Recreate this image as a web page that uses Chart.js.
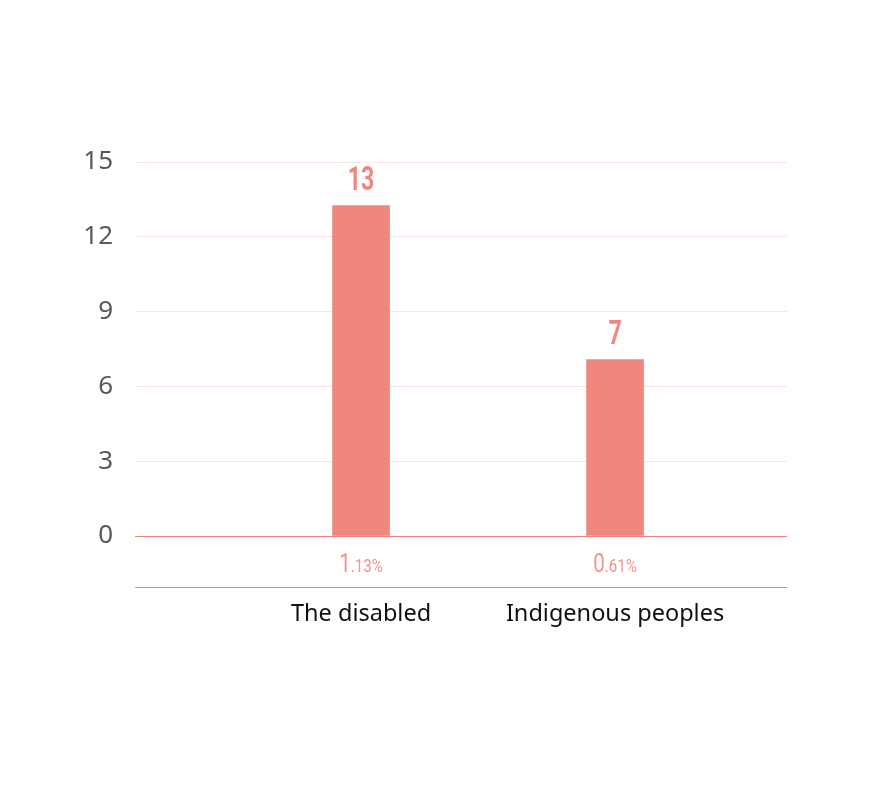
<!DOCTYPE html>
<html>
<head>
<meta charset="utf-8">
<script src="https://cdn.jsdelivr.net/npm/chart.js@4"></script>
<style>
  html, body { margin: 0; padding: 0; background: #fff; }
  #wrap { width: 887px; height: 804px; }
</style>
</head>
<body>
<div id="wrap"><canvas id="barChart" width="887" height="804"></canvas></div>
<script>
const categories = ['The disabled', 'Indigenous peoples'];
const positions = [1, 2];
const barValues = [13.25, 7.07];
const countLabels = ['13', '7'];
const shareLabels = ['1.13%', '0.61%'];
const yTicks = [0, 3, 6, 9, 12, 15];

const salmon = '#f0877f';

// labels above the bars, percent row and the two salmon rules
const labelPlugin = {
    id: 'labels',
    afterDatasetsDraw(chart) {
        const ctx = chart.ctx;
        const meta = chart.getDatasetMeta(0);
        const y = chart.scales.y;
        const area = chart.chartArea;
        ctx.save();
        ctx.strokeStyle = salmon;
        ctx.lineWidth = 1;
        [y.getPixelForValue(0), area.bottom].forEach(py => {
            const yy = Math.round(py) + 0.5;
            ctx.beginPath();
            ctx.moveTo(area.left, yy);
            ctx.lineTo(area.right, yy);
            ctx.stroke();
        });

        meta.data.forEach((bar, i) => {
            // count label, condensed bold
            ctx.save();
            ctx.fillStyle = salmon;
            ctx.textAlign = 'center';
            ctx.textBaseline = 'alphabetic';
            ctx.font = 'bold 33px Roboto, sans-serif';
            ctx.translate(bar.x, bar.y - 16);
            ctx.scale(0.7, 1);
            ctx.fillText(countLabels[i], 0, 0);
            ctx.restore();

            // percent: first digit bigger than the rest
            const txt = shareLabels[i];
            const head = txt.slice(0, 1);
            const tail = txt.slice(1);
            const bigFont = '25px Roboto, sans-serif';
            const smallFont = '18.5px Roboto, sans-serif';
            ctx.font = bigFont;
            const w1 = ctx.measureText(head).width;
            ctx.font = smallFont;
            const w2 = ctx.measureText(tail).width;
            const sx = 0.82;
            ctx.save();
            ctx.translate(bar.x - (w1 + w2) * sx / 2, y.getPixelForValue(0) + 36);
            ctx.scale(sx, 1);
            ctx.fillStyle = '#f2938c';
            ctx.textAlign = 'left';
            ctx.font = bigFont;
            ctx.fillText(head, 0, 0);
            ctx.font = smallFont;
            ctx.fillText(tail, w1, 0);
            ctx.restore();
        });
        ctx.restore();
    }
};

let barChart = new Chart(document.getElementById('barChart').getContext('2d'), {
    type: 'bar',
    data: {
        datasets: [{
            data: positions.map((p, i) => ({ x: p, y: barValues[i] })),
            backgroundColor: salmon,
            borderWidth: 0,
            barThickness: 57
        }]
    },
    options: {
        responsive: false,
        animation: false,
        layout: { padding: { top: 162, right: 100, left: 0, bottom: 0 } },
        plugins: {
            legend: { display: false },
            tooltip: { enabled: false }
        },
        scales: {
            x: {
                type: 'linear',
                offset: false,
                min: 0.11,
                max: 2.677,
                afterBuildTicks: (scale) => { scale.ticks = positions.map(v => ({ value: v })); },
                afterFit: (scale) => { scale.height = 804 - 587; },
                grid: { display: false },
                border: { display: false },
                ticks: {
                    padding: 5,
                    color: '#111',
                    font: { family: '"Noto Sans", sans-serif', size: 23.5 },
                    callback: (v) => categories[positions.indexOf(v)] || ''
                }
            },
            y: {
                min: -2.05,
                max: 15,
                afterBuildTicks: (scale) => { scale.ticks = yTicks.map(v => ({ value: v })); },
                afterFit: (scale) => { scale.width = 135; },
                border: { display: false },
                grid: {
                    drawTicks: false,
                    color: (c) => c.tick && c.tick.value === 0 ? 'rgba(0,0,0,0)' : '#fbe4e2',
                    lineWidth: 1
                },
                ticks: {
                    padding: 22,
                    color: '#595959',
                    font: { family: '"Noto Sans", sans-serif', size: 26 }
                }
            }
        }
    },
    plugins: [labelPlugin]
});
</script>
</body>
</html>
